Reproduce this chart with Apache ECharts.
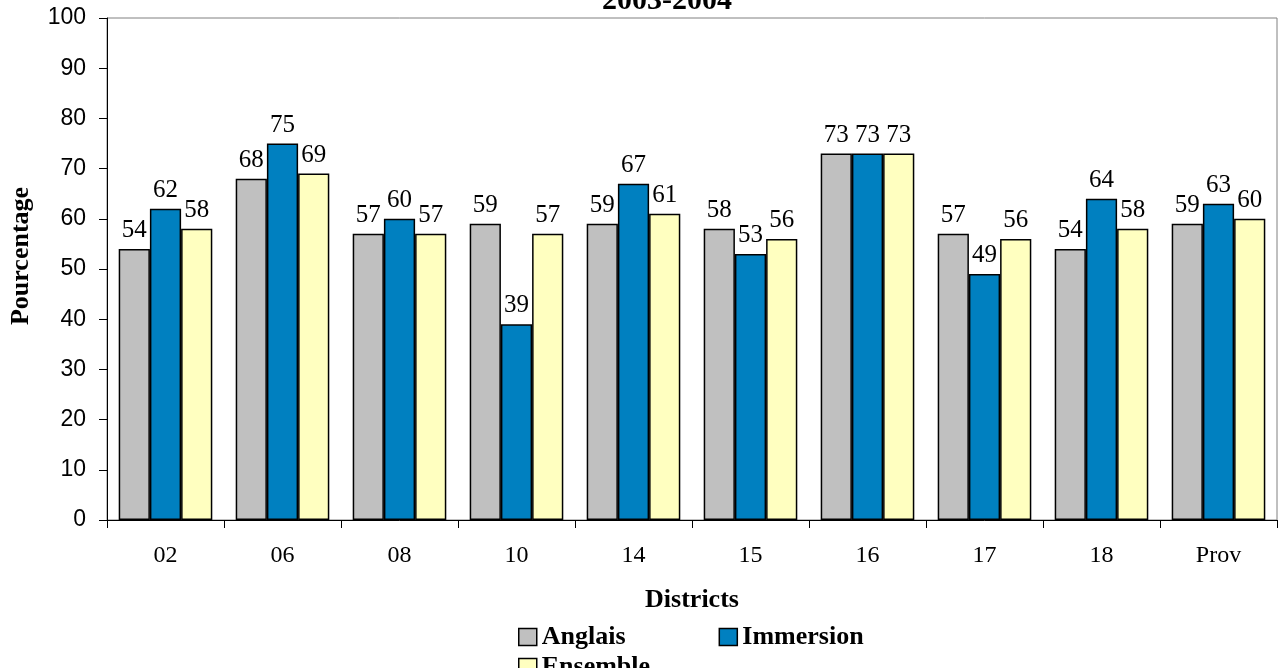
<!DOCTYPE html>
<html>
<head>
<meta charset="utf-8">
<script src="https://cdn.jsdelivr.net/npm/echarts@6/dist/echarts.min.js"></script>
<style>
html,body{margin:0;padding:0;background:#fff;}
#c{width:1278px;height:668px;}
</style>
</head>
<body>
<div id="c"></div>
<script>
var categories = ['02','06','08','10','14','15','16','17','18','Prov'];
var anglais = [54,68,57,59,59,58,73,57,54,59];
var immersion = [62,75,60,39,67,53,73,49,64,63];
var ensemble = [58,69,57,57,61,56,73,56,58,60];
var yTicks = [0,100,10];

var serif = '"Liberation Serif","Times New Roman",serif';
var sans = '"Liberation Sans",Arial,sans-serif';

var chart = echarts.init(document.getElementById('c'));
function barSeries(name, data, color){
  return {
    name: name, type: 'bar', data: data,
    barGap: '0%', barCategoryGap: '20%',
    itemStyle: {color: color, borderColor: '#000', borderWidth: 1.5},
    label: {show: true, position: 'top', distance: 6, color: '#000',
            fontFamily: serif, fontSize: 25},
    emphasis: {disabled: true}
  };
}
var legendText = {fontFamily: serif, fontSize: 26, fontWeight: 'bold', color: '#000'};
chart.setOption({
  animation: false,
  graphic: [{
    type: 'text', x: 667, y: 1,
    style: {text: '2003-2004', font: 'bold 30px ' + serif, fill: '#000',
            textAlign: 'center', textVerticalAlign: 'middle'}
  }],
  grid: {left: 105, right: 1, top: 18, bottom: 148, show: true,
         borderColor: '#808080', borderWidth: 1, backgroundColor: 'transparent'},
  legend: [{
    data: ['Anglais','Immersion'], left: 513, top: 619, orient: 'horizontal',
    itemWidth: 18, itemHeight: 17, itemGap: 93,
    icon: 'rect', textStyle: legendText,
    itemStyle: {borderColor: '#000', borderWidth: 1.5}
  },{
    data: ['Ensemble'], left: 513, top: 649,
    itemWidth: 18, itemHeight: 17, icon: 'rect', textStyle: legendText,
    itemStyle: {borderColor: '#000', borderWidth: 1.5}
  }],
  xAxis: {
    type: 'category', data: categories,
    name: 'Districts', nameLocation: 'middle', nameGap: 67,
    nameTextStyle: {fontFamily: serif, fontSize: 26, fontWeight: 'bold', color: '#000'},
    axisLine: {lineStyle: {color: '#000', width: 1}},
    axisTick: {show: true, length: 8, lineStyle: {color: '#000'}},
    axisLabel: {fontFamily: serif, fontSize: 24, color: '#000', margin: 24},
    splitLine: {show: false}
  },
  yAxis: {
    type: 'value', min: yTicks[0], max: yTicks[1], interval: yTicks[2],
    name: 'Pourcentage', nameLocation: 'middle', nameGap: 73,
    nameTextStyle: {fontFamily: serif, fontSize: 26, fontWeight: 'bold', color: '#000',
                    padding: [0, 0, 0, 26]},
    axisLine: {show: true, lineStyle: {color: '#000', width: 1}},
    axisTick: {show: true, length: 8, lineStyle: {color: '#000'}},
    axisLabel: {fontFamily: sans, fontSize: 23, color: '#000', margin: 21},
    splitLine: {show: false}
  },
  series: [
    barSeries('Anglais', anglais, '#C0C0C0'),
    barSeries('Immersion', immersion, '#0080C0'),
    barSeries('Ensemble', ensemble, '#FFFFC0')
  ]
});
</script>
</body>
</html>
